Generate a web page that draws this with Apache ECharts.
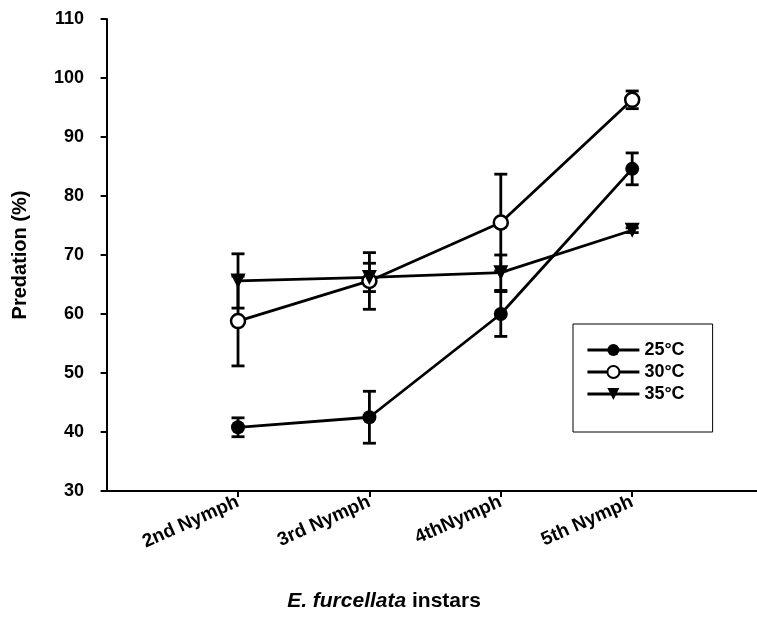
<!DOCTYPE html>
<html>
<head>
<meta charset="utf-8">
<script src="https://cdn.jsdelivr.net/npm/echarts@6/dist/echarts.min.js"></script>
<style>
  html, body { margin: 0; padding: 0; background: #fff; }
  #mainEchart { width: 757px; height: 639px; }
</style>
</head>
<body>
<div id="mainEchart"></div>
<script>
  // instars on the x axis
  var categories = ['2nd Nymph', '3rd Nymph', '4thNymph', '5th Nymph'];
  var seriesNames = ['25°C', '30°C', '35°C'];

  // mean predation (%) and standard error
  var pred25 = [40.8, 42.5, 60.0, 84.6];
  var err25  = [1.6, 4.4, 3.8, 2.7];
  var pred30 = [58.8, 65.6, 75.5, 96.3];
  var err30  = [7.6, 4.8, 8.2, 1.5];
  var pred35 = [65.6, 66.2, 67.0, 74.2];
  var err35  = [4.6, 2.4, 3.0, 0.4];

  var yTicks = [30, 40, 50, 60, 70, 80, 90, 100, 110];

  var font = 'Liberation Sans, Arial, sans-serif';

  function points(vals) {
    return vals.map(function (v, i) { return [i + 1, v]; });
  }
  function errPoints(vals, errs) {
    return vals.map(function (v, i) { return [i + 1, v - errs[i], v + errs[i]]; });
  }

  // error bar with caps
  function renderErr(params, api) {
    var lo = api.coord([api.value(0), api.value(1)]);
    var hi = api.coord([api.value(0), api.value(2)]);
    var w = 13;
    var st = { stroke: '#000', lineWidth: 2.8 };
    return {
      type: 'group',
      children: [
        { type: 'line', shape: { x1: lo[0], y1: lo[1], x2: hi[0], y2: hi[1] }, style: st },
        { type: 'line', shape: { x1: lo[0] - w / 2, y1: lo[1], x2: lo[0] + w / 2, y2: lo[1] }, style: st },
        { type: 'line', shape: { x1: hi[0] - w / 2, y1: hi[1], x2: hi[0] + w / 2, y2: hi[1] }, style: st }
      ]
    };
  }

  function errSeries(vals, errs) {
    return {
      type: 'custom',
      renderItem: renderErr,
      data: errPoints(vals, errs),
      z: 1,
      silent: true
    };
  }

  function lineSeries(name, vals, symbol, fill, rotate) {
    return {
      name: name,
      type: 'line',
      data: points(vals),
      symbol: symbol,
      symbolSize: symbol === 'triangle' ? 15 : 14,
      symbolRotate: rotate || 0,
      showAllSymbol: true,
      lineStyle: { color: '#000', width: 2.8 },
      itemStyle: { color: fill, borderColor: '#000', borderWidth: fill === '#fff' ? 2.5 : 0 },
      z: 3,
      silent: true
    };
  }

  var option = {
    backgroundColor: '#fff',
    animation: false,
    title: {
      text: '{i|E. furcellata} instars',
      left: 379,
      top: 586,
      textAlign: 'center',
      textStyle: {
        fontFamily: font,
        fontWeight: 'bold',
        fontSize: 21,
        color: '#000',
        rich: {
          i: { fontFamily: font, fontWeight: 'bold', fontStyle: 'italic', fontSize: 21, color: '#000' }
        }
      }
    },
    grid: { left: 104, top: 19, width: 653, bottom: 148, containLabel: false },
    legend: {
      orient: 'vertical',
      left: 573,
      top: 324,
      padding: [17, 28, 29, 13],
      itemGap: 4,
      itemWidth: 52,
      itemHeight: 15,
      borderColor: '#000',
      borderWidth: 1,
      lineStyle: { width: 2.8 },
      data: seriesNames,
      textStyle: { fontFamily: font, fontWeight: 'bold', fontSize: 18, color: '#000' }
    },
    xAxis: {
      type: 'value',
      min: -0.02,
      max: 4.95,
      interval: 1,
      splitLine: { show: false },
      axisLine: { lineStyle: { color: '#000', width: 2 } },
      axisTick: {
        length: 6,
        lineStyle: { color: '#000', width: 2 },
        customValues: [1, 2, 3, 4]
      },
      axisLabel: {
        customValues: [1, 2, 3, 4],
        rotate: 24,
        margin: 10,
        fontFamily: font,
        fontWeight: 'bold',
        fontSize: 19,
        color: '#000',
        formatter: function (v) { return categories[Math.round(v) - 1] || ''; }
      }
    },
    yAxis: {
      type: 'value',
      min: yTicks[0],
      max: yTicks[yTicks.length - 1],
      interval: 10,
      splitLine: { show: false },
      axisLine: { show: true, lineStyle: { color: '#000', width: 2 } },
      axisTick: { show: true, length: 6, lineStyle: { color: '#000', width: 2 } },
      axisLabel: {
        margin: 20,
        fontFamily: font,
        fontWeight: 'bold',
        fontSize: 18,
        color: '#000'
      },
      name: 'Predation (%)',
      nameLocation: 'middle',
      nameGap: 74,
      nameTextStyle: { fontFamily: font, fontWeight: 'bold', fontSize: 20, color: '#000' }
    },
    series: [
      errSeries(pred25, err25),
      errSeries(pred30, err30),
      errSeries(pred35, err35),
      lineSeries(seriesNames[0], pred25, 'circle', '#000'),
      lineSeries(seriesNames[1], pred30, 'circle', '#fff'),
      lineSeries(seriesNames[2], pred35, 'triangle', '#000', 180)
    ]
  };

  var myEcharts = echarts.init(document.getElementById('mainEchart'), null, { renderer: 'canvas' });
  myEcharts.setOption(option);
</script>
</body>
</html>
